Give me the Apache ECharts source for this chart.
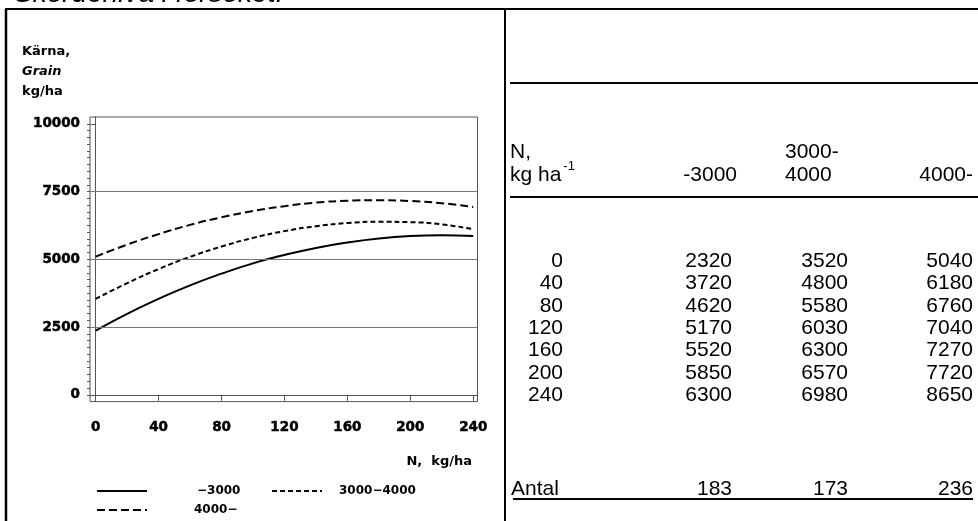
<!DOCTYPE html>
<html>
<head>
<meta charset="utf-8">
<script src="https://cdn.jsdelivr.net/npm/echarts@6/dist/echarts.min.js"></script>
<style>
  html, body { margin: 0; padding: 0; background: #fff; }
  #chart { width: 978px; height: 521px; }
</style>
</head>
<body>
<div id="chart"></div>
<script>
// Fitted grain yield response (kg/ha) for three yield-level groups, every 20 kg N/ha
const nRates    = [0, 20, 40, 60, 80, 100, 120, 140, 160, 180, 200, 220, 240];
const yieldLow  = [2370, 2990, 3540, 4040, 4470, 4850, 5160, 5420, 5620, 5770, 5860, 5890, 5860];
const yieldMid  = [3540, 4120, 4640, 5090, 5470, 5790, 6040, 6220, 6340, 6385, 6370, 6290, 6110];
const yieldHigh = [5100, 5540, 5930, 6270, 6550, 6780, 6960, 7090, 7160, 7180, 7150, 7070, 6930];
const groupNames = ['\u22123000', '3000\u22124000', '4000\u2212'];

// Axis ticks and reference lines
const xTicks = [0, 40, 80, 120, 160, 200, 240];
const yTicks = [0, 2500, 5000, 7500, 10000];
const yMinorTicks = [];
for (let v = 0; v <= 10000; v += 250) yMinorTicks.push(v);
const refLines = [2500, 5000, 7500];

// Observed mean yields in the table
const tableRates = ['0', '40', '80', '120', '160', '200', '240'];
const obsLow  = [2320, 3720, 4620, 5170, 5520, 5850, 6300];
const obsMid  = [3520, 4800, 5580, 6030, 6300, 6570, 6980];
const obsHigh = [5040, 6180, 6760, 7040, 7270, 7720, 8650];
const counts  = [183, 173, 236];

const chartFont = '"DejaVu Sans", "Liberation Sans", sans-serif';
const tableFamily = '"Liberation Sans", Arial, sans-serif';
const tableFont = '21px ' + tableFamily;

const toPairs = arr => nRates.map((n, i) => [n, arr[i]]);

const measure = (txt, font) => {
  const ctx = document.createElement('canvas').getContext('2d');
  ctx.font = font;
  return ctx.measureText(txt).width;
};

// ---- table (right panel) ----
const graphics = [];
const line = (x1, y1, x2, y2, w) => graphics.push({
  type: 'line', silent: true,
  shape: { x1, y1, x2, y2 },
  style: { stroke: '#000', lineWidth: w }
});
const text = (t, x, y, align, font, extra) => graphics.push({
  type: 'text', silent: true, x, y,
  style: Object.assign({ text: t, font: font || tableFont, fill: '#000', align: align || 'left', verticalAlign: 'middle' }, extra || {})
});

// page frame
line(5, 9, 978, 9, 2);
line(6, 9, 6, 521, 2.5);
line(505, 9, 505, 521, 2);
// table rules
line(510, 83, 978, 83, 2);
line(510, 197, 978, 197, 2);
line(513, 499, 973, 499, 2);

const colRight = [563, 732, 848, 973];
// header
text('N,', 510, 152);
text('kg ha', 510, 175);
text('-1', 510 + measure('kg ha', tableFont) + 2, 166, 'left', '13px ' + tableFamily);
text('-3000', 737, 175, 'right');
text('3000-', 785, 152);
text('4000', 785, 175);
text('4000-', 973, 175, 'right');

const rowTop = 261, rowStep = 22.4;
tableRates.forEach((r, i) => {
  const y = rowTop + i * rowStep;
  text(r, colRight[0], y, 'right');
  text(String(obsLow[i]), colRight[1], y, 'right');
  text(String(obsMid[i]), colRight[2], y, 'right');
  text(String(obsHigh[i]), colRight[3], y, 'right');
});
text('Antal', 511, 489);
counts.forEach((c, i) => text(String(c), colRight[i + 1], 489, 'right'));

// ---- chart titles ----
const boldChart = 'bold 13px ' + chartFont;
text('K\u00e4rna,', 22, 52, 'left', boldChart);
text('Grain', 22, 72, 'left', 'italic bold 13px ' + chartFont);
text('kg/ha', 22, 92, 'left', boldChart);
text('N,  kg/ha', 472, 462, 'right', boldChart);
text('Sk\u00f6rdeniv\u00e5 i f\u00f6rs\u00f6ket.', 14, 8, 'left', 'italic 28px ' + tableFamily, { verticalAlign: 'bottom' });

const legendText = {
  fontFamily: chartFont, fontWeight: 'bold', fontSize: 12, color: '#000'
};
const makeLegend = (name, left, top, pad) => ({
  data: [name], left, top, itemWidth: 50, itemHeight: 14,
  selectedMode: false, padding: 0,
  itemStyle: { color: 'rgba(0,0,0,0)', borderWidth: 0, opacity: 0 },
  textStyle: Object.assign({ padding: [0, 0, 0, pad] }, legendText)
});

const axisLabelStyle = {
  fontFamily: chartFont, fontWeight: 'bold', fontSize: 13.5, color: '#000',
  textBorderColor: '#000', textBorderWidth: 0.5,
  formatter: v => String(v)
};

const chart = echarts.init(document.getElementById('chart'), null, { renderer: 'canvas' });
chart.setOption({
  animation: false,
  backgroundColor: '#fff',
  grid: {
    left: 90, top: 117, right: 500.5, bottom: 119.4,
    show: true, borderColor: '#555', borderWidth: 1, containLabel: false
  },
  legend: [
    makeLegend(groupNames[0], 96, 485, 45),
    makeLegend(groupNames[1], 271, 485, 12),
    makeLegend(groupNames[2], 96, 504, 42)
  ],
  xAxis: {
    type: 'value', min: -3.6, max: 242.7,
    axisLine: { show: true, lineStyle: { color: '#555' } },
    axisTick: { show: true, customValues: xTicks, length: 6, lineStyle: { color: '#555' } },
    axisLabel: Object.assign({ customValues: xTicks, margin: 19 }, axisLabelStyle),
    splitLine: { show: false }
  },
  yAxis: [
    {
      type: 'value', min: -250, max: 10250,
      axisLine: { show: true, lineStyle: { color: '#555' } },
      axisTick: { show: true, customValues: yTicks, length: 5, lineStyle: { color: '#555' } },
      axisLabel: Object.assign({ customValues: yTicks, margin: 10 }, axisLabelStyle),
      splitLine: { show: false }
    },
    {
      type: 'value', min: -250, max: 10250, position: 'left',
      axisLine: { show: false },
      axisTick: { show: true, customValues: yMinorTicks, length: 3, lineStyle: { color: '#555' } },
      axisLabel: { show: false },
      splitLine: { show: false }
    }
  ],
  series: [
    {
      name: groupNames[0], type: 'line', data: toPairs(yieldLow),
      smooth: true, symbol: 'none', showSymbol: false,
      lineStyle: { color: '#000', width: 2, type: 'solid' },
      itemStyle: { color: '#000' },
      markLine: {
        silent: true, symbol: 'none', label: { show: false },
        lineStyle: { color: '#777', width: 1, type: 'solid' },
        data: refLines.map(v => ({ yAxis: v }))
      }
    },
    {
      name: groupNames[1], type: 'line', data: toPairs(yieldMid),
      smooth: true, symbol: 'none', showSymbol: false,
      lineStyle: { color: '#000', width: 2, type: [5, 3] },
      itemStyle: { color: '#000' }
    },
    {
      name: groupNames[2], type: 'line', data: toPairs(yieldHigh),
      smooth: true, symbol: 'none', showSymbol: false,
      lineStyle: { color: '#000', width: 2, type: [8, 4] },
      itemStyle: { color: '#000' }
    }
  ],
  graphic: graphics
});
</script>
</body>
</html>
